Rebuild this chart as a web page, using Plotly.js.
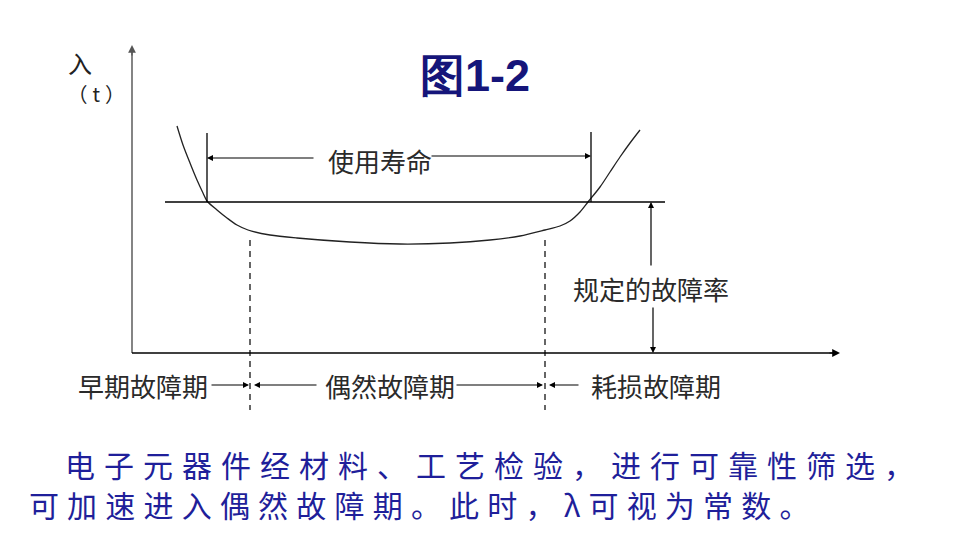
<!DOCTYPE html>
<html>
<head>
<meta charset="utf-8">
<script src="https://cdn.plot.ly/plotly-3.0.1.min.js"></script>
<style>html,body{margin:0;padding:0;background:#fff;}#chart{width:960px;height:551px;}</style>
</head>
<body>
<div id="chart"></div>
<script>
// Bathtub failure-rate curve: time t vs failure rate lambda(t)
const curveT = [45, 51, 58, 65, 71, 75, 85, 95, 105, 116, 138, 165, 218, 268, 318, 358, 388, 413, 428, 438, 448, 456, 468, 478, 488, 498, 508];
const curveL = [227, 208, 190, 173, 160, 152, 143, 135, 128, 123, 118, 115, 111, 109, 110, 113, 117, 123, 127, 132, 141, 151, 166, 181, 196, 210, 223];
const specLevel = 151;           // 规定的故障率
const specRange = [33, 533];
const lifeStart = 75, lifeEnd = 459;   // 使用寿命 bounds
const lifeTop = 220;
const phaseBounds = [118, 413];  // 早期/偶然/耗损 boundaries
const dashRange = [113, -57];
const axisMaxT = 708, axisMaxL = 308;

const titleText = '图1-2';
const yLabel = '入';
const yLabelSub = '（t）';
const lifeLabel = '使用寿命';
const specLabel = '规定的故障率';
const phaseLabels = ['早期故障期', '偶然故障期', '耗损故障期'];
const noteLines = ['电子元器件经材料、工艺检验，进行可靠性筛选，', '可加速进入偶然故障期。此时，λ可视为常数。'];

const black = '#000';
const traces = [
  {x: curveT, y: curveL, mode: 'lines', line: {color: '#222', width: 1.3, shape: 'spline', smoothing: 0.8}},
  {x: specRange, y: [specLevel, specLevel], mode: 'lines', line: {color: black, width: 1.3}},
  {x: [lifeStart, lifeStart], y: [specLevel, lifeTop], mode: 'lines', line: {color: black, width: 1.3}},
  {x: [lifeEnd, lifeEnd], y: [specLevel, lifeTop + 1], mode: 'lines', line: {color: black, width: 1.3}},
  {x: [phaseBounds[0], phaseBounds[0]], y: dashRange, mode: 'lines', line: {color: black, width: 1.2, dash: '6px,5px'}},
  {x: [phaseBounds[1], phaseBounds[1]], y: dashRange, mode: 'lines', line: {color: black, width: 1.2, dash: '6px,5px'}},
  {x: [0, 0], y: [0, axisMaxL - 6], mode: 'lines', line: {color: '#666', width: 1.6}},
  {x: [0, axisMaxT - 6], y: [0, 0], mode: 'lines', line: {color: black, width: 1.3}}
];

const lblFont = {family: 'Noto Sans CJK SC', size: 26, color: '#2a2a2a'};
const noteFont = {family: 'Noto Sans CJK SC', size: 30, color: '#1f1f9a'};
function arrow(x, y, ax, ay, extra) {
  return Object.assign({x: x, y: y, ax: ax, ay: ay, xref: 'x', yref: 'y', axref: 'x', ayref: 'y',
    text: '', showarrow: true, arrowhead: 2, arrowsize: 1, arrowwidth: 1.2, arrowcolor: black}, extra || {});
}
function label(x, y, text, font, extra) {
  return Object.assign({x: x, y: y, xref: 'x', yref: 'y', text: text, showarrow: false, font: font,
    xanchor: 'center', yanchor: 'middle'}, extra || {});
}
const annotations = [
  arrow(0, axisMaxL, 0, axisMaxL - 12, {arrowsize: 1.3, arrowcolor: '#555'}),
  arrow(axisMaxT, 0, axisMaxT - 12, 0, {arrowsize: 1.3}),
  label(343, 278, '<b>' + titleText + '</b>', {family: 'Liberation Sans, Arial', size: 45, color: '#15157a'}),
  label(-52, 291, yLabel, {family: 'Noto Sans CJK SC', size: 24, color: '#222'}),
  label(-33, 260, yLabelSub, {family: 'Noto Sans CJK SC', size: 20, color: '#222'}),
  label(248, 193, lifeLabel, lblFont),
  arrow(lifeStart, 195, 183, 195),
  arrow(lifeEnd, 197, 298, 197),
  label(519, 65, specLabel, lblFont),
  arrow(519, specLevel, 519, 86),
  arrow(521, 0, 521, 47),
  label(11, -32, phaseLabels[0], lblFont),
  label(258, -32, phaseLabels[1], lblFont),
  label(524, -32, phaseLabels[2], lblFont),
  arrow(phaseBounds[0] - 1, -32, 78, -32),
  arrow(phaseBounds[0] + 4, -32, 186, -32),
  arrow(phaseBounds[1] - 2, -32, 323, -32),
  arrow(phaseBounds[1] + 4, -32, 448, -32),
  label(362, -111, noteLines[0], noteFont),
  label(291, -151, noteLines[1], noteFont)
];
// extra letter spacing (px) by annotation index, to match the wide original glyph pitch
const spacing = {4: 5, 18: 9, 19: 8.2};

const layout = {
  width: 960, height: 551,
  margin: {l: 0, r: 0, t: 0, b: 0},
  paper_bgcolor: '#fff', plot_bgcolor: '#fff',
  showlegend: false,
  xaxis: {range: [-132, 828], visible: false, fixedrange: true},
  yaxis: {range: [-198, 353], visible: false, fixedrange: true},
  annotations: annotations
};
Plotly.newPlot('chart', traces.map(t => Object.assign({hoverinfo: 'skip'}, t)), layout, {staticPlot: true}).then(gd => {
  const groups = gd.querySelectorAll('g.annotation');
  Object.keys(spacing).forEach(i => {
    const g = groups[i];
    if (!g) return;
    const t = g.querySelector('text.annotation-text');
    if (t) t.style.letterSpacing = spacing[i] + 'px';
  });
});
</script>
</body>
</html>
